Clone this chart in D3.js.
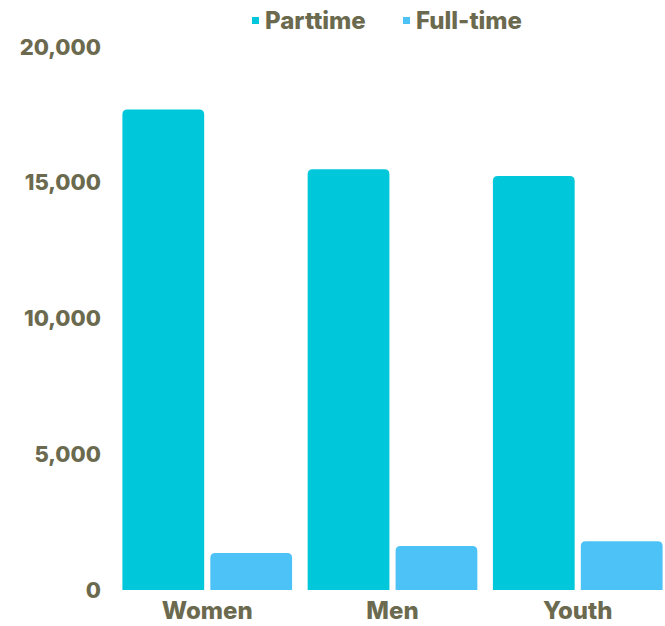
<!DOCTYPE html>
<html><head><meta charset="utf-8">
<script src="https://cdn.jsdelivr.net/npm/d3@7"></script>
<style>body{margin:0;background:#fff}svg{display:block}text{font-family:Inter,"Open Sans",sans-serif;font-weight:800;fill:#6b6a4f}</style>
</head><body><svg id="c" width="665" height="626"></svg>
<script>
const categories = ["Women","Men","Youth"];
const seriesNames = ["Parttime","Full-time"];
const parttime = [17700, 15500, 15250];
const fulltime = [1360, 1620, 1800];
const yTicks = [0,5000,10000,15000,20000];
const colors = ["#00c8da","#4dc2f7"];

const svg = d3.select("#c");
const y = d3.scaleLinear().domain([0,20000]).range([590,47]);
const x0 = d3.scaleBand().domain(categories).range([115,670]).paddingInner(0.084).paddingOuter(0.04);
const x1 = d3.scaleBand().domain(seriesNames).range([0,x0.bandwidth()]).paddingInner(0.07);
const data = categories.map((c,i)=>({cat:c, vals:[{s:seriesNames[0],v:parttime[i]},{s:seriesNames[1],v:fulltime[i]}]}));

const r = 5;
function topRounded(x,yTop,w,h){
  const rr=Math.min(r,h/2,w/2);
  return `M${x},${yTop+h}V${yTop+rr}Q${x},${yTop} ${x+rr},${yTop}H${x+w-rr}Q${x+w},${yTop} ${x+w},${yTop+rr}V${yTop+h}Z`;
}
svg.append("g").selectAll("g").data(data).join("g")
  .attr("transform",d=>`translate(${x0(d.cat)},0)`)
  .selectAll("path").data(d=>d.vals).join("path")
  .attr("d",d=>topRounded(x1(d.s),y(d.v),x1.bandwidth(),y(0)-y(d.v)))
  .attr("fill",(d,i)=>colors[i]);

const yAxis = d3.axisLeft(y).tickValues(yTicks).tickFormat(d3.format(",")).tickSize(0).tickPadding(0);
const ga = svg.append("g").attr("transform","translate(101,0)").call(yAxis);
ga.select(".domain").remove();
ga.selectAll("text").style("font-size","22px").style("font-family","Inter, sans-serif").style("font-weight","800").attr("fill","#6b6a4f");

const xAxis = d3.axisBottom(x0).tickSize(0).tickPadding(0);
const gx = svg.append("g").attr("transform","translate(0,602)").call(xAxis);
gx.select(".domain").remove();
gx.selectAll("text").style("font-size","24px").style("font-family","Inter, sans-serif").style("font-weight","800").attr("fill","#6b6a4f");

const legendX = [252, 403];
const lg = svg.append("g");
seriesNames.forEach((s,i)=>{
  lg.append("rect").attr("x",legendX[i]).attr("y",17).attr("width",7).attr("height",7).attr("fill",colors[i]);
  lg.append("text").attr("x",legendX[i]+13).attr("y",29).style("font-size","24px").text(s);
});
</script></body></html>
